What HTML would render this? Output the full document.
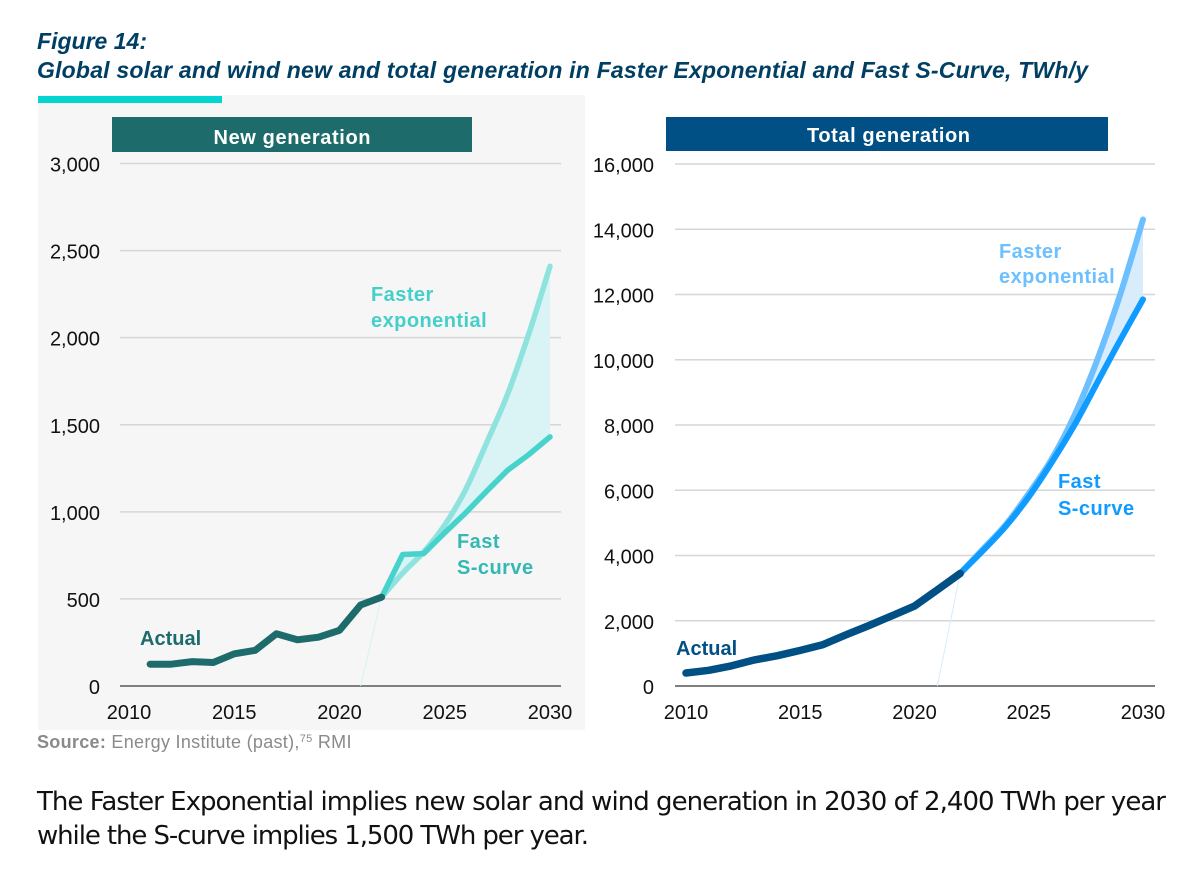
<!DOCTYPE html>
<html>
<head>
<meta charset="utf-8">
<title>Figure 14</title>
<style>
html,body{margin:0;padding:0;background:#fff;}
svg{display:block;}
text{font-family:"Liberation Sans",sans-serif;}
.tick{font-size:20px;fill:#111;}
.lab{font-size:20px;font-weight:bold;letter-spacing:.45px;}
.lab2{font-size:20px;font-weight:bold;letter-spacing:0;}
.hdr{font-size:20px;font-weight:bold;fill:#fff;text-anchor:middle;}
.ttl{font-size:23px;font-weight:bold;font-style:italic;fill:#003f63;}
.body{font-size:26px;fill:#111;font-family:"DejaVu Sans",sans-serif;}
</style>
</head>
<body>
<svg id="fig" width="1200" height="877" viewBox="0 0 1200 877" xmlns="http://www.w3.org/2000/svg">
  <rect width="1200" height="877" fill="#fff"/>
  <text class="ttl" x="37" y="49" textLength="110" lengthAdjust="spacing">Figure 14:</text>
  <text class="ttl" x="37" y="78" textLength="1051" lengthAdjust="spacing">Global solar and wind new and total generation in Faster Exponential and Fast S-Curve, TWh/y</text>
  <rect x="38" y="95" width="547" height="635" fill="#f6f6f6"/>
  <rect x="38" y="96" width="184" height="7" fill="#05d5d0"/>
  <rect x="112" y="117" width="360" height="35" fill="#1d6b6b"/>
  <text class="hdr" x="292" y="144" textLength="157" lengthAdjust="spacing">New generation</text>
  <rect x="666" y="117" width="442" height="34" fill="#004f85"/>
  <text class="hdr" x="888.5" y="142" textLength="163" lengthAdjust="spacing">Total generation</text>
  <g id="left-chart"></g>
  <g id="right-chart"></g>

  <text class="lab" x="371" y="301" fill="#45cfca">Faster</text>
  <text class="lab" x="371" y="327" fill="#45cfca">exponential</text>
  <text class="lab" x="457" y="548" fill="#33b8b2">Fast</text>
  <text class="lab" x="457" y="574" fill="#33b8b2">S-curve</text>
  <text class="lab2" x="140" y="645" fill="#1d6b6b">Actual</text>

  <text class="lab" x="999" y="258" fill="#6cc0ff">Faster</text>
  <text class="lab" x="999" y="283" fill="#6cc0ff">exponential</text>
  <text class="lab" x="1058" y="488" fill="#0f9bff">Fast</text>
  <text class="lab" x="1058" y="515" fill="#0f9bff" letter-spacing=".7">S-curve</text>
  <text class="lab2" x="676" y="655" fill="#004f85">Actual</text>

  <text x="37" y="748" font-size="18" letter-spacing=".3" fill="#8a8a8a"><tspan font-weight="bold">Source:</tspan> Energy Institute (past),<tspan font-size="11" dy="-6">75</tspan><tspan dy="6"> RMI</tspan></text>
  <text class="body" x="37" y="810" textLength="1129" lengthAdjust="spacing">The Faster Exponential implies new solar and wind generation in 2030 of 2,400 TWh per year</text>
  <text class="body" x="37" y="844" textLength="552" lengthAdjust="spacing">while the S-curve implies 1,500 TWh per year.</text>
</svg>
<script>
var xTickYears = [2010, 2015, 2020, 2025, 2030];
var newYTicks = [0, 500, 1000, 1500, 2000, 2500, 3000];
var totalYTicks = [0, 2000, 4000, 6000, 8000, 10000, 12000, 14000, 16000];

var newActualYears = [2011, 2012, 2013, 2014, 2015, 2016, 2017, 2018, 2019, 2020, 2021, 2022];
var newActual = [125, 125, 140, 135, 185, 205, 300, 265, 280, 320, 465, 510];
var projectionYears = [2022, 2023, 2024, 2025, 2026, 2027, 2028, 2029, 2030];
var newFaster = [510, 648, 770, 925, 1130, 1400, 1680, 2025, 2410];
var newFast = [510, 755, 760, 880, 995, 1120, 1240, 1330, 1430];

var totalActualYears = [2010, 2011, 2012, 2013, 2014, 2015, 2016, 2017, 2018, 2019, 2020, 2021, 2022];
var totalActual = [400, 480, 620, 800, 930, 1090, 1270, 1570, 1850, 2150, 2450, 2950, 3450];
var totalFaster = [3450, 4200, 4950, 5900, 6950, 8300, 10000, 12000, 14300];
var totalFast = [3450, 4150, 4900, 5800, 6850, 8000, 9300, 10600, 11850];

var NS = 'http://www.w3.org/2000/svg';

function drawPanel(rootId, o) {
  var root = document.getElementById(rootId);
  function x(v) { return o.x0 + (v - 2010) * o.xStep; }
  function y(v) { return o.y0 - v / o.yMax * (o.y0 - o.yTop); }
  function mk(tag, attrs, parent) {
    var e = document.createElementNS(NS, tag);
    for (var k in attrs) e.setAttribute(k, attrs[k]);
    (parent || root).appendChild(e);
    return e;
  }
  function xy(xs, vs) {
    return xs.map(function (yr, i) { return [x(yr), y(vs[i])]; });
  }
  function polyD(p) {
    return p.map(function (q, i) { return (i ? 'L' : 'M') + q[0].toFixed(1) + ' ' + q[1].toFixed(1); }).join(' ');
  }
  // smooth curve segments through the projected points
  function curveSegs(p) {
    var d = '';
    for (var i = 0; i < p.length - 1; i++) {
      var a = p[Math.max(i - 1, 0)], b = p[i], c = p[i + 1], e = p[Math.min(i + 2, p.length - 1)];
      d += ' C' + (b[0] + (c[0] - a[0]) / 6).toFixed(1) + ' ' + (b[1] + (c[1] - a[1]) / 6).toFixed(1) +
           ' ' + (c[0] - (e[0] - b[0]) / 6).toFixed(1) + ' ' + (c[1] - (e[1] - b[1]) / 6).toFixed(1) +
           ' ' + c[0].toFixed(1) + ' ' + c[1].toFixed(1);
    }
    return d;
  }
  function smoothD(p) {
    return 'M' + p[0][0].toFixed(1) + ' ' + p[0][1].toFixed(1) + curveSegs(p);
  }

  o.yTicks.forEach(function (t) {
    var ln = mk('line', { x1: o.gridL, x2: o.gridR, y1: y(t), y2: y(t), stroke: t === 0 ? '#7f7f7f' : '#d6d6d6', 'stroke-width': t === 0 ? 2 : 1.5 });
    
    
    var lb = mk('text', { x: o.yLabelX, y: y(t) + 8, 'text-anchor': 'end', 'class': 'tick' });
    lb.textContent = t.toLocaleString('en-US');
    
    
  });
  xTickYears.forEach(function (yr) {
    var lb = mk('text', { x: x(yr), y: o.xLabelY, 'text-anchor': 'middle', 'class': 'tick' });
    lb.textContent = yr;
    
    
  });

  var leader = mk('line', { x1: x(2021), y1: y(0), x2: x(2022), y2: y(o.actual[o.actual.length - 1]), stroke: o.leader, 'stroke-width': 1 });
  
  

  var fasterPts = xy(projectionYears, o.faster);
  var fastPts = xy(projectionYears, o.fast);
  var fastD = o.smoothFast ? smoothD(fastPts) : polyD(fastPts);

  var fastRev = fastPts.slice().reverse();
  var bandD = smoothD(fasterPts) + ' ' + (o.smoothFast
    ? 'L' + fastRev[0][0].toFixed(1) + ' ' + fastRev[0][1].toFixed(1) + curveSegs(fastRev)
    : polyD(fastRev).replace('M', 'L')) + ' Z';
  var band = mk('path', { d: bandD, fill: o.fill });
  
  

  var fasterLine = mk('path', { d: smoothD(fasterPts), fill: 'none', stroke: o.cFaster, 'stroke-width': o.w, 'stroke-linejoin': 'round', 'stroke-linecap': 'round' });
  
  

  var fastLine = mk('path', { d: fastD, fill: 'none', stroke: o.cFast, 'stroke-width': o.w, 'stroke-linejoin': 'round', 'stroke-linecap': 'round' });
  
  

  var actualLine = mk('polyline', { points: xy(o.actualYears, o.actual).map(function (q) { return q[0].toFixed(1) + ',' + q[1].toFixed(1); }).join(' '), fill: 'none', stroke: o.cActual, 'stroke-width': o.w + 1.5, 'stroke-linejoin': 'round', 'stroke-linecap': 'round' });
  
  
}

drawPanel('left-chart', {
  x0: 129, xStep: 21.05, y0: 686, yTop: 163.5, yMax: 3000,
  gridL: 120, gridR: 561, yLabelX: 100, xLabelY: 719,
  yTicks: newYTicks, actualYears: newActualYears, actual: newActual,
  faster: newFaster, fast: newFast, smoothFast: false,
  cActual: '#1d6b6b', cFaster: '#8fe3df', cFast: '#47d2cc',
  fill: '#daf4f5', leader: '#d5f3f3', w: 5.5
});
drawPanel('right-chart', {
  x0: 686, xStep: 22.85, y0: 686, yTop: 164, yMax: 16000,
  gridL: 675, gridR: 1155, yLabelX: 654, xLabelY: 719,
  yTicks: totalYTicks, actualYears: totalActualYears, actual: totalActual,
  faster: totalFaster, fast: totalFast, smoothFast: true,
  cActual: '#004f85', cFaster: '#6cc0ff', cFast: '#0f9bff',
  fill: '#d8ecfb', leader: '#d8ecfb', w: 6
});
</script>
</body>
</html>
